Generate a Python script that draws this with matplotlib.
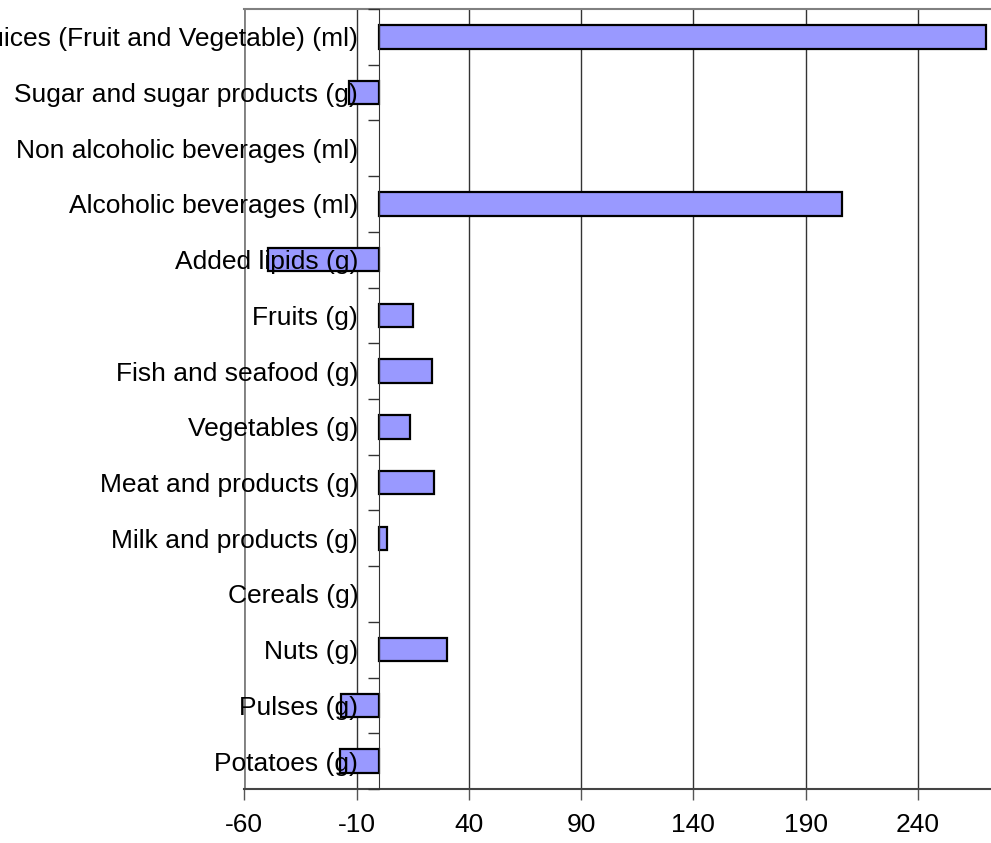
import numpy as np
import matplotlib.pyplot as plt

# categories from bottom to top
categories = [
    "Potatoes (g)",
    "Pulses (g)",
    "Nuts (g)",
    "Cereals (g)",
    "Milk and products (g)",
    "Meat and products (g)",
    "Vegetables (g)",
    "Fish and seafood (g)",
    "Fruits (g)",
    "Added lipids (g)",
    "Alcoholic beverages (ml)",
    "Non alcoholic beverages (ml)",
    "Sugar and sugar products (g)",
    "Juices (Fruit and Vegetable) (ml)",
]
values = [-17.2, -17.1, 30.5, 0, 3.7, 24.4, 14.0, 23.8, 15.1, -49.4, 206.2, 0, -13.4, 270.5]
xticks = [-60, -10, 40, 90, 140, 190, 240]

plt.rcParams["font.family"] = ["Liberation Sans", "DejaVu Sans"]

fig = plt.figure(figsize=(9.91, 8.43), dpi=100)
ax = fig.add_axes([244.3 / 991, 1 - 789 / 843, 1 - 244.3 / 991, (789 - 9) / 843])

y = np.arange(len(categories))
widths = [1.6 if v != 0 else 0 for v in values]
ax.barh(y, values, height=0.42, color="#9999ff", edgecolor="black", linewidth=widths, zorder=2)

ax.set_xlim(-60, 272.6)
ax.set_ylim(-0.5, len(categories) - 0.5)

ax.set_xticks(xticks)
ax.set_xticklabels([str(t) for t in xticks], fontsize=19)
ax.xaxis.grid(True, color="#333333", linewidth=1.0)
ax.xaxis.set_zorder(0.5)
ax.tick_params(axis="x", direction="out", length=8, width=1, color="#555555", pad=9)

# y axis sits at zero
ax.spines["left"].set_position(("data", 0))
ax.spines["left"].set_color("#333333")
ax.spines["left"].set_zorder(4)
ax.spines["right"].set_visible(False)
ax.spines["top"].set_color("#808080")
ax.spines["top"].set_linewidth(1.5)
ax.spines["bottom"].set_color("#444444")
ax.spines["bottom"].set_linewidth(1.5)

ax.set_yticks(y)
ax.set_yticklabels(categories, fontsize=19)
ax.set_yticks(np.arange(len(categories) + 1) - 0.5, minor=True)
ax.tick_params(axis="y", which="major", length=0, pad=15)
ax.tick_params(axis="y", which="minor", direction="out", length=8, width=1, color="#333333")
ax.yaxis.set_zorder(5)

# left border line at -60
ax.axvline(-60, color="#808080", linewidth=2, zorder=1)

fig.savefig("out.png", dpi=100)
